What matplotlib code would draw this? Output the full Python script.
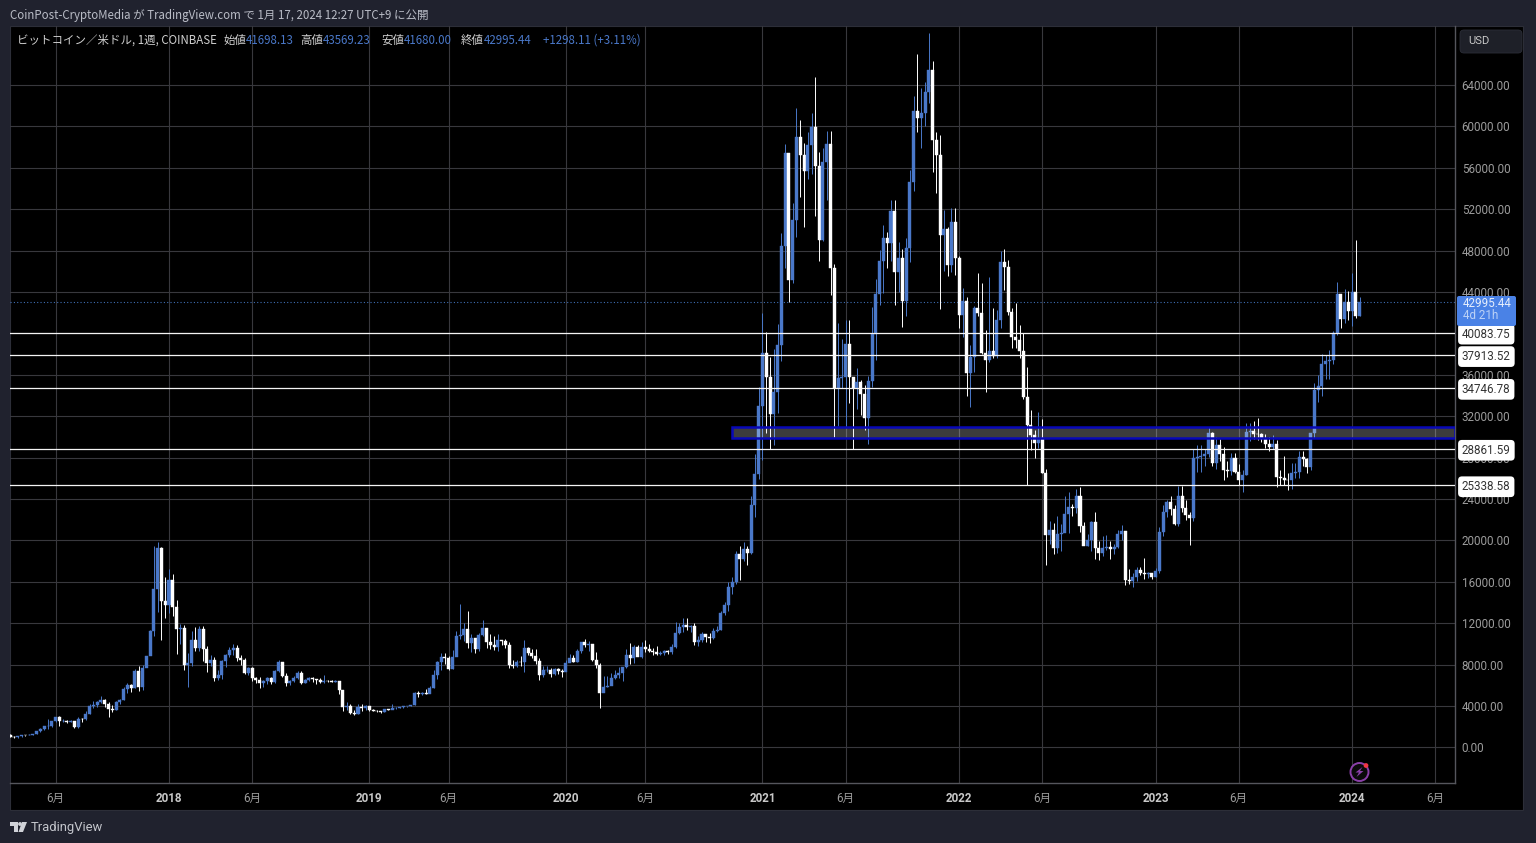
import numpy as np
import matplotlib
matplotlib.use('Agg')
from matplotlib import pyplot as plt
from matplotlib.patches import Rectangle, FancyBboxPatch, Circle, Polygon

# weekly candles, first bar is the week of 2017-03-13
first_open = 1230
close_2017 = [1030, 970, 1075, 1205, 1180, 1240, 1345, 1555, 1780, 2050, 2050, 2530, 2930, 2550, 2590, 2510, 2520, 1950, 2750, 2730, 3240, 4050, 4090, 4350, 4600, 4210, 3680, 3620, 4380, 4600, 5700, 6000, 5750, 7400, 5850, 7700, 8800, 11300, 15300, 19300, 14150, 13800]
high_2017 = [1260, 1130, 1100, 1220, 1250, 1265, 1350, 1600, 1850, 2120, 2760, 2600, 2990, 3000, 2780, 2670, 2680, 2560, 2950, 2830, 3480, 4200, 4480, 4450, 4980, 4700, 4370, 4100, 4450, 4650, 5850, 6200, 6150, 7600, 7900, 7950, 8800, 11400, 19500, 19900, 19400, 16500]
low_2017 = [1000, 890, 930, 1050, 1140, 1160, 1240, 1340, 1540, 1730, 1750, 2000, 2440, 2100, 2480, 2330, 2460, 1850, 1910, 2420, 2650, 3200, 3820, 3920, 4260, 3950, 2970, 3450, 3600, 4180, 4550, 5300, 5400, 5720, 5500, 5550, 7800, 9000, 10800, 13100, 10400, 12500]

close_2018 = [16200, 13600, 11450, 11500, 8000, 8150, 10400, 9600, 11450, 9500, 8150, 8500, 6750, 7000, 8360, 8900, 9400, 9650, 8640, 8500, 7230, 7700, 6720, 6500, 6200, 6380, 6750, 6300, 7400, 8260, 6940, 6250, 6400, 6700, 7200, 6250, 6500, 6700, 6600, 6560, 6300, 6420, 6400, 6350, 6380, 5600, 3900, 4050, 3300, 3200, 3950, 3850, 4000]
high_2018 = [17250, 16800, 14250, 11900, 11800, 9130, 11250, 11650, 11750, 11750, 9800, 8900, 8700, 7500, 8450, 9000, 9750, 9990, 9950, 8900, 8650, 7800, 7760, 6800, 6830, 6480, 6850, 6800, 7450, 8490, 8300, 7150, 6520, 6950, 7400, 7410, 6580, 6780, 6790, 6640, 6680, 7000, 6500, 6500, 6520, 6460, 5520, 4350, 4200, 3600, 4200, 4250, 4100]
low_2018 = [13000, 12700, 9000, 10000, 7500, 5870, 7850, 9300, 9300, 8400, 7320, 7900, 6430, 6550, 6650, 7800, 8750, 8900, 8400, 7950, 7100, 7000, 6450, 6200, 5780, 5800, 6100, 6100, 6250, 7300, 6850, 5900, 6050, 6300, 6650, 6120, 6200, 6450, 6300, 6100, 6200, 6250, 6320, 6330, 6330, 5200, 3550, 3600, 3250, 3150, 3250, 3570, 3650]

close_2019 = [3600, 3550, 3540, 3440, 3680, 3620, 3800, 3850, 3910, 3980, 4020, 4110, 5230, 5150, 5280, 5210, 5760, 7000, 8290, 8770, 8650, 7550, 8780, 10800, 10850, 11450, 10130, 10550, 9500, 10900, 11570, 10220, 9900, 9680, 10390, 10250, 9900, 8000, 7850, 8300, 8220, 9580, 9100, 8870, 8390, 7000, 7490, 7530, 7070, 7550, 7360, 7300]
high_2019 = [4050, 3740, 3670, 3530, 3730, 3720, 4210, 3890, 3950, 4030, 4050, 4150, 5340, 5470, 5350, 5640, 5900, 7450, 8350, 9100, 9100, 8800, 9400, 11250, 13830, 12000, 13190, 10950, 10200, 11100, 12330, 11500, 10950, 10800, 10950, 10400, 10450, 10150, 8500, 8500, 8800, 10400, 9750, 9500, 9500, 8600, 7900, 7900, 7650, 7680, 7700, 7550]
low_2019 = [3560, 3480, 3400, 3360, 3410, 3590, 3680, 3740, 3830, 3860, 3940, 3990, 4090, 4900, 5100, 5180, 5230, 5720, 6650, 7500, 8070, 7440, 7540, 8900, 10500, 10300, 9600, 9250, 9100, 9300, 10800, 9650, 9500, 9400, 9330, 9860, 9600, 7700, 7650, 7780, 7850, 7300, 8900, 8680, 8040, 6560, 6850, 7250, 6820, 7000, 7070, 6850]

close_2020 = [8190, 8680, 8300, 9360, 10160, 9900, 9960, 8450, 8000, 5240, 5880, 5900, 6750, 6990, 7170, 7750, 8940, 8680, 9680, 8700, 9680, 9480, 9330, 9270, 9040, 9100, 9300, 9190, 9700, 11030, 11670, 11840, 11650, 11700, 10180, 10400, 10950, 10700, 10600, 11290, 11400, 13020, 13770, 15500, 16000, 18700, 18200, 19150, 18800, 23400, 26400, 33000]
high_2020 = [8450, 9000, 8950, 9560, 10170, 10500, 10250, 9970, 9190, 8180, 6900, 6950, 7220, 7450, 7780, 7780, 9480, 10070, 9950, 9950, 10200, 10400, 9980, 9590, 9800, 9350, 9450, 9400, 9980, 12100, 12000, 12480, 12480, 11800, 12050, 10800, 11180, 10950, 11050, 11500, 11740, 13200, 14100, 15950, 16500, 18950, 19500, 19900, 19450, 24300, 28400, 34800]
low_2020 = [7680, 8500, 8230, 8270, 9100, 9700, 9280, 8400, 7640, 3860, 5670, 5800, 6150, 6580, 6750, 6450, 7700, 8100, 8200, 8800, 8650, 9250, 9250, 8900, 8900, 8950, 8920, 9000, 9080, 9650, 10950, 11150, 11350, 11130, 9900, 9820, 10200, 10150, 10140, 10530, 11180, 11350, 12800, 13200, 14800, 15800, 16200, 18000, 17600, 18700, 22300, 25900]

close_2021 = [38100, 35800, 32200, 34300, 38900, 48500, 57400, 45200, 50950, 59000, 57250, 55730, 58200, 59980, 56180, 49030, 56600, 58310, 46300, 34700, 35700, 35800, 39000, 35800, 34700, 35300, 34200, 31800, 35400, 39950, 43800, 47000, 49260, 48750, 51830, 45950, 47300, 43100, 48260, 54670, 61500, 60800, 61300, 63360, 65500, 58700, 57250, 49500, 50100, 46600, 50800, 47300]
high_2021 = [42000, 40100, 37700, 38500, 40900, 49700, 58350, 52600, 52600, 61800, 60600, 58400, 59500, 61300, 64800, 57560, 57900, 59560, 59600, 46700, 41000, 39500, 41300, 41300, 35750, 36700, 35500, 35000, 35900, 42600, 45300, 48100, 50500, 49800, 52900, 52900, 48800, 48200, 49200, 55800, 62900, 67000, 63700, 64300, 69000, 66300, 59500, 59200, 51900, 50300, 52100, 52100]
low_2021 = [27800, 30400, 28850, 29200, 32300, 37300, 46300, 43000, 44900, 49350, 53200, 50300, 54900, 55400, 51400, 47000, 48900, 52900, 43700, 30000, 31100, 34700, 31000, 33300, 28800, 32700, 32100, 30700, 29300, 34800, 37400, 42800, 43900, 46300, 47000, 42800, 44000, 40600, 41700, 46900, 53800, 59500, 57900, 60000, 62300, 55630, 53600, 42400, 46000, 45600, 45900, 45700]

close_2022 = [41800, 43100, 36150, 37760, 42450, 41950, 38100, 37400, 38300, 37800, 41300, 46900, 46400, 42100, 39700, 39400, 38300, 33900, 31150, 30200, 29450, 29900, 26500, 20530, 21000, 19250, 20600, 20700, 22560, 23270, 23100, 24300, 21400, 19500, 20050, 21820, 19300, 18790, 19300, 19400, 19200, 19350, 20620, 20900, 16170, 16120, 16500, 17150, 16900, 16800, 16830, 16500]
high_2022 = [47500, 44400, 43500, 38900, 42650, 45850, 44900, 40300, 45500, 42500, 42300, 48000, 48200, 47100, 42500, 42900, 40800, 40000, 36800, 32600, 30700, 32400, 31700, 26900, 21900, 21700, 22400, 21600, 24300, 24700, 23500, 25000, 25140, 21800, 20600, 21900, 22800, 19950, 20400, 20500, 19950, 19700, 21050, 21500, 20700, 17200, 16850, 17400, 17450, 18350, 17000, 16850]
low_2022 = [40500, 39700, 34000, 32900, 36300, 41700, 38000, 34370, 37200, 37600, 37600, 40500, 44200, 41800, 38600, 38600, 37600, 33700, 25400, 28700, 28000, 28900, 26500, 17630, 19700, 18700, 18800, 19000, 20800, 20700, 22400, 22700, 20800, 19550, 19500, 19000, 18200, 18100, 18500, 19100, 18200, 18700, 19250, 20000, 15700, 15800, 15500, 16050, 16700, 16300, 16350, 16300]

close_2023 = [17100, 20800, 22750, 23750, 23000, 21600, 24300, 23150, 22450, 22170, 28000, 28100, 28200, 28400, 30400, 27500, 29200, 28400, 26800, 26700, 27950, 26600, 25850, 26330, 30500, 30600, 30300, 30250, 29800, 29300, 29050, 29300, 26150, 26050, 25850, 25840, 26490, 26590, 28040, 27880, 27140, 30355, 34540, 34950, 37020, 37350, 37400, 40050, 43820, 41370, 43000, 42200]
high_2023 = [17300, 21300, 23400, 23900, 24300, 23450, 25300, 25300, 23900, 22800, 28850, 29200, 29200, 28800, 30950, 30500, 30000, 29800, 29000, 27700, 28500, 28500, 27400, 26800, 31400, 31400, 31500, 31850, 30400, 30300, 30000, 30200, 29700, 26800, 28150, 26500, 27500, 27500, 28600, 28600, 28000, 30300, 35200, 35950, 38000, 37950, 38400, 40200, 44950, 43820, 44300, 44100]
low_2023 = [16500, 16900, 20400, 22300, 22500, 21450, 21400, 22800, 21950, 19570, 21900, 26600, 26600, 27200, 28100, 27150, 26950, 27700, 25800, 26100, 26350, 26500, 25350, 24720, 26300, 29600, 29800, 29700, 29500, 28900, 28650, 28800, 25200, 25350, 25350, 24900, 25000, 26000, 26000, 27200, 26550, 26800, 29900, 33400, 34000, 35600, 35600, 37100, 39900, 40500, 41000, 41300]

close_2024 = [44000, 41698.13, 42995.44]
high_2024 = [45880, 49030, 43569.23]
low_2024 = [40700, 41500, 41680.00]

level_lines = [40083.75, 37913.52, 34746.78, 28861.59, 25338.58]
zone_low = 29880
zone_high = 31000
zone_start = 191
last_price = 42995.44

y_ticks = list(range(0, 68000, 4000))
x_tick_pos = [12, 42, 64, 95, 116, 147, 168, 199, 221, 251, 273, 303, 325, 355, 377]
x_tick_labels = ['6月', '2018', '6月', '2019', '6月', '2020', '6月', '2021', '6月', '2022', '6月', '2023', '6月', '2024', '6月']

W, H = 1536, 843
FRAME = '#20222e'
UP = '#4a78c9'
DOWN = '#ffffff'
GRID = '#38383d'
CJK = ['Noto Sans CJK JP', 'DejaVu Sans']
plt.rcParams['font.family'] = ['Roboto', 'Noto Sans CJK JP', 'DejaVu Sans']

closes = np.array(close_2017 + close_2018 + close_2019 + close_2020 + close_2021 + close_2022 + close_2023 + close_2024, dtype=float)
highs = np.array(high_2017 + high_2018 + high_2019 + high_2020 + high_2021 + high_2022 + high_2023 + high_2024, dtype=float)
lows = np.array(low_2017 + low_2018 + low_2019 + low_2020 + low_2021 + low_2022 + low_2023 + low_2024, dtype=float)
opens = np.r_[first_open, closes[:-1]]
idx = np.arange(len(closes))

fig = plt.figure(figsize=(W / 100, H / 100), dpi=100, facecolor=FRAME)
fig.add_artist(Rectangle((10 / W, 1 - 810 / H), 1513 / W, 784 / H, transform=fig.transFigure, fc='#000000', ec='#2c2e38', lw=0.8, zorder=-1))

# main price pane
ax = fig.add_axes([10 / W, 1 - 783 / H, 1445 / W, 757 / H], facecolor='none')
ax.set_xlim(-0.06, 382.2)
ax.set_ylim(-3430, 69710)
ax.set_axisbelow(True)
ax.grid(True, color=GRID, lw=0.8)

up = closes >= opens
colors = np.where(up, UP, DOWN)
ax.vlines(idx, lows, highs, colors=colors, lw=0.7, zorder=3)
ax.bar(idx, np.abs(closes - opens), bottom=np.minimum(opens, closes), width=0.8, color=colors, edgecolor=colors, lw=0.3, zorder=4)

ax.axhline(last_price, color='#3f6fb5', lw=0.8, ls=(0, (1, 2)), zorder=2)
for v in level_lines:
    ax.axhline(v, color='#f4f4f4', lw=0.9, zorder=5)
    ax.text(1.0048, v, '%.2f' % v, transform=ax.get_yaxis_transform(), va='center_baseline', ha='left', fontsize=8.4,
            color='#333333', zorder=10, clip_on=False,
            bbox=dict(boxstyle='round,pad=0.33', fc='#ffffff', ec='none'))

ax.add_patch(Rectangle((zone_start, zone_low), 382.2 - zone_start, zone_high - zone_low, fc=(1, 1, 1, 0.24), ec='#0808b8', lw=1.8, zorder=6))

ax.set_yticks(y_ticks)
ax.set_yticklabels(['%.2f' % v for v in y_ticks], fontsize=8.4, color='#9c9c9c', va='center_baseline')
ax.yaxis.tick_right()
ax.set_xticks(x_tick_pos)
ax.set_xticklabels(x_tick_labels, fontsize=8.4, color='#9c9c9c')
for lab in ax.get_xticklabels():
    if lab.get_text() != '6月':
        lab.set_fontweight('bold')
        lab.set_color('#c8c8c8')
ax.tick_params(axis='both', length=0)
ax.tick_params(axis='x', pad=6.5)
ax.tick_params(axis='y', pad=4.8)
for s in ['top', 'left']:
    ax.spines[s].set_visible(False)
for s in ['right', 'bottom']:
    ax.spines[s].set_color('#55565c')
    ax.spines[s].set_linewidth(1.0)

# chrome on top, in pixels
top = fig.add_axes([0, 0, 1, 1], facecolor='none')
top.set_xlim(0, W)
top.set_ylim(H, 0)
top.axis('off')

top.text(10, 15, 'CoinPost-CryptoMedia が TradingView.com で 1月 17, 2024 12:27 UTC+9 に公開', fontsize=8.3, color='#b9bcc6', va='center', family=CJK)

legend_parts = [
    (17, 'ビットコイン／米ドル, 1週, COINBASE', '#d0d0d0'),
    (223, '始値', '#d0d0d0'), (246, '41698.13', '#4a78c9'),
    (300, '高値', '#d0d0d0'), (323, '43569.23', '#4a78c9'),
    (381, '安値', '#d0d0d0'), (404, '41680.00', '#4a78c9'),
    (461, '終値', '#d0d0d0'), (484, '42995.44', '#4a78c9'),
    (543, '+1298.11 (+3.11%)', '#4a78c9'),
]
for px, txt, col in legend_parts:
    top.text(px, 40.5, txt, fontsize=8.25, color=col, va='center', family=CJK)

top.add_patch(FancyBboxPatch((1460, 30), 62, 23, boxstyle='round,pad=0,rounding_size=4', fc='#1e2028', ec='#2c2e38', lw=0.6))
top.text(1468, 41.5, 'USD', fontsize=8, color='#c8c8c8', va='center')

top.add_patch(FancyBboxPatch((1457, 296), 59, 30, boxstyle='round,pad=0,rounding_size=2', fc='#4a82e6', ec='none'))
top.text(1463, 303.5, '42995.44', fontsize=8.4, color='#e6eefc', va='center')
top.text(1463, 315.5, '4d 21h', fontsize=8.4, color='#bcd2f6', va='center')

# logo
top.add_patch(Polygon([(10, 822), (17.5, 822), (17.5, 832), (13.5, 832), (13.5, 826), (10, 826)], fc='#d0d2d8', ec='none'))
top.add_patch(Circle((20, 824), 1.9, fc='#d0d2d8', ec='none'))
top.add_patch(Polygon([(22, 822), (27, 822), (23, 832), (18.5, 832)], fc='#d0d2d8', ec='none'))
top.text(31, 827.5, 'TradingView', fontsize=9.4, color='#c4c6cc', va='center')

# lightning badge
top.add_patch(Circle((1359.5, 772), 9, fc='#0a0a0a', ec='#8a3fa8', lw=1.4))
top.add_patch(Polygon([(1362.5, 767), (1355.5, 772.5), (1359, 772.5), (1356.5, 777), (1363.5, 771), (1360, 771)], fc='#8a3fa8', ec='none'))
top.add_patch(Circle((1366, 765.5), 2.4, fc='#f23645', ec='none'))

fig.savefig('out.png', dpi=100, facecolor=fig.get_facecolor())
plt.close('all')
